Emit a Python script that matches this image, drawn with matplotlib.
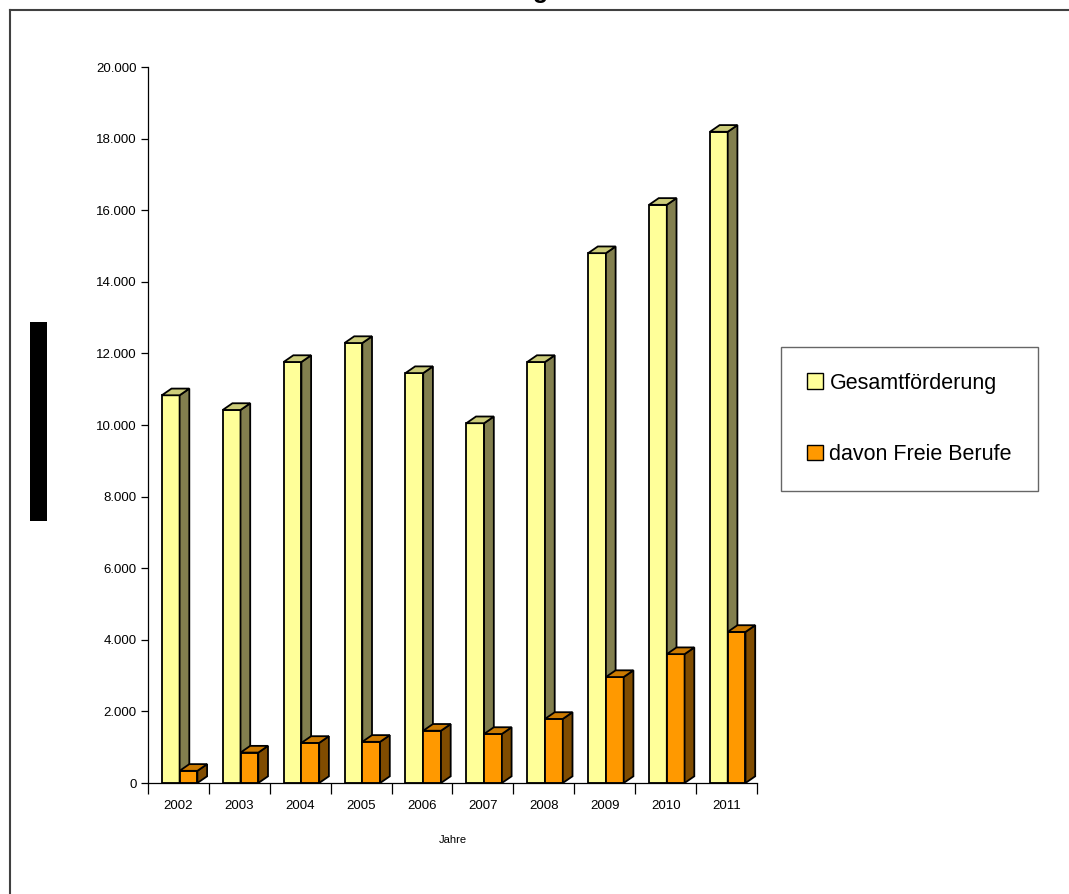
import numpy as np
import matplotlib
matplotlib.use('Agg')
import matplotlib.pyplot as plt
from matplotlib.patches import Polygon, Rectangle, Patch
from matplotlib.lines import Line2D
from matplotlib.ticker import FuncFormatter, FixedLocator

plt.rcParams['font.family'] = ['Liberation Sans', 'DejaVu Sans']

# data
years = ['2002', '2003', '2004', '2005', '2006', '2007', '2008', '2009', '2010', '2011']
gesamt = [10830, 10420, 11760, 12290, 11450, 10050, 11760, 14800, 16150, 18190]
freie = [340, 850, 1120, 1150, 1460, 1370, 1790, 2960, 3600, 4220]
labels = ['Gesamtförderung', 'davon Freie Berufe']

W, H = 1069, 894
fig = plt.figure(figsize=(W / 100, H / 100), dpi=100)
ax = fig.add_axes([148 / W, (H - 783) / H, (757 - 148) / W, (783 - 67) / H])

n = len(years)
ax.set_xlim(0, n)
ax.set_ylim(0, 20000)

# pseudo-3D geometry (data units)
bw = 0.292
dx = 9.7 / 60.9
dy = 6.7 / 35.8 * 1000


def bar3d(ax, left, heights, front, side, top):
    ax.bar(left, heights, width=bw, align='edge', color=front,
           edgecolor='black', linewidth=1.3, zorder=3)
    for x0, h in zip(left, heights):
        x1 = x0 + bw
        ax.add_patch(Polygon([(x1, 0), (x1 + dx, dy), (x1 + dx, h + dy), (x1, h)],
                             closed=True, facecolor=side, edgecolor='black',
                             linewidth=1.3, zorder=3, clip_on=False))
        ax.add_patch(Polygon([(x0, h), (x0 + dx, h + dy), (x1 + dx, h + dy), (x1, h)],
                             closed=True, facecolor=top, edgecolor='black',
                             linewidth=1.3, zorder=3, clip_on=False))


idx = np.arange(n)
bar3d(ax, idx + 0.227, gesamt, '#FFFF99', '#827F4E', '#CCCC7A')
bar3d(ax, idx + 0.519, freie, '#FF9900', '#804C00', '#CC7A00')

# axes styling
for s in ['top', 'right']:
    ax.spines[s].set_visible(False)
for s in ['left', 'bottom']:
    ax.spines[s].set_linewidth(0.9)
    ax.spines[s].set_zorder(4)

ax.set_yticks(np.arange(0, 20001, 2000))
ax.yaxis.set_major_formatter(FuncFormatter(lambda v, p: f'{int(v):,}'.replace(',', '.')))
ax.tick_params(axis='y', length=5, width=0.9, pad=3, labelsize=9.5)

ax.xaxis.set_major_locator(FixedLocator(np.arange(0, n + 1)))
ax.xaxis.set_minor_locator(FixedLocator(idx + 0.5))
ax.set_xticks(idx + 0.5, minor=True)
ax.set_xticklabels(years, minor=True)
ax.set_xticklabels([])
ax.tick_params(axis='x', which='major', length=8, width=0.9)
ax.tick_params(axis='x', which='minor', length=0, pad=12, labelsize=9.5)

ax.set_xlabel('Jahre', fontsize=8, labelpad=17)

# redacted y label
fig.add_artist(Rectangle((30 / W, (H - 521) / H), 17 / W, 199 / H,
                         transform=fig.transFigure, facecolor='black', edgecolor='none'))

# outer chart frame (runs off the right and bottom)
fig.add_artist(Line2D([10 / W, 1.01], [(H - 10) / H, (H - 10) / H],
                      transform=fig.transFigure, color='#404040', linewidth=1.5))
fig.add_artist(Line2D([10 / W, 10 / W], [-0.01, (H - 10) / H],
                      transform=fig.transFigure, color='#404040', linewidth=1.5))

# title, almost entirely cut off at the top edge
fig.text(541 / W, 1 + 2 / H, 'g', ha='center', va='baseline',
         fontsize=18, fontweight='bold')

handles = [Patch(facecolor='#FFFF99', edgecolor='black', linewidth=1.0),
           Patch(facecolor='#FF9900', edgecolor='black', linewidth=1.0)]
leg = fig.legend(handles, labels, loc='upper left',
                 bbox_to_anchor=(781 / W, (H - 347) / H),
                 fontsize=15.5, frameon=True, fancybox=False,
                 handlelength=0.75, handleheight=0.75, handletextpad=0.3,
                 labelspacing=2.33, borderpad=1.2, borderaxespad=0)
leg.get_frame().set_edgecolor('#404040')
leg.get_frame().set_linewidth(1.0)

fig.savefig('out.png', dpi=100, facecolor='white')
